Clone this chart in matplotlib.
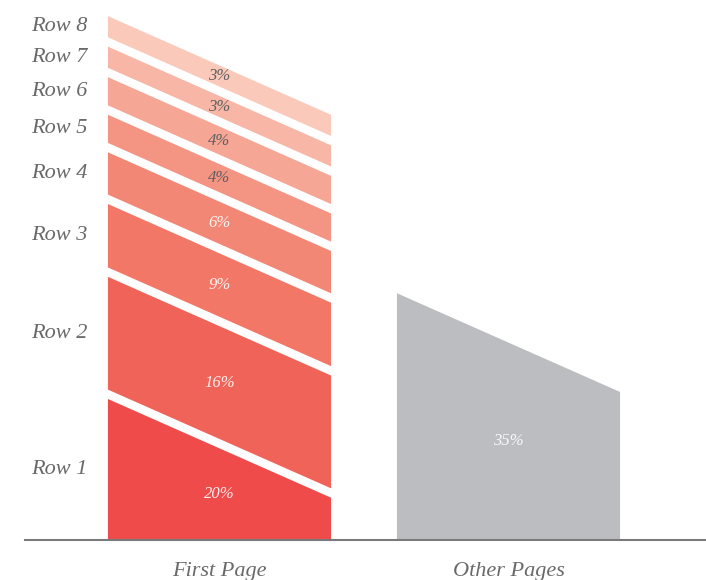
import matplotlib
matplotlib.use("Agg")
import matplotlib.pyplot as plt

# --- data -------------------------------------------------------------
rows = ["Row 1", "Row 2", "Row 3", "Row 4", "Row 5", "Row 6", "Row 7", "Row 8"]
first_page = [20, 16, 9, 6, 4, 4, 3, 3]          # % per row, bottom to top
other_pages = 35                                   # %
categories = ["First Page", "Other Pages"]
value_labels = ["20%", "16%", "9%", "6%", "4%", "4%", "3%", "3%"]
other_label = "35%"

# --- style ------------------------------------------------------------
row_colors = ["#ef4b4b", "#f06358", "#f27767", "#f38775",
              "#f49583", "#f6a694", "#f8b7a6", "#fbc9b9"]
other_color = "#bcbdc0"
light_text = [True, True, True, True, False, False, False, False]
text_gray = "#6a6a6a"
serif = ["Liberation Serif", "DejaVu Serif"]

W, H, DPI = 706, 580, 100
base_px, left_px = 40, 25
px_per_x = 289.0       # pixels between category centres
px_per_pct = 7.05      # pixels per percentage point
bar_w = 0.772          # bar width in category units
gap = 1.33             # white gap between stacked rows (percentage units)
slant = 14.0           # drop of every top edge from left to right (percentage units)

fig = plt.figure(figsize=(W / DPI, H / DPI), dpi=DPI)
ax = fig.add_axes([left_px / W, base_px / H, 1 - left_px / W, 1 - base_px / H])
x_lo = -(219.5 - left_px) / px_per_x
ax.set_xlim(x_lo, x_lo + (W - left_px) / px_per_x)
ax.set_ylim(0, (H - base_px) / px_per_pct)


def slanted_band(ax, xc, bottom, top, color, flat_bottom):
    x0, x1 = xc - bar_w / 2, xc + bar_w / 2
    b_right = bottom if flat_bottom else bottom - slant
    xs = [x0, x1, x1, x0]
    ys = [bottom, b_right, top - slant, top]
    ax.fill(xs, ys, color=color, lw=0, zorder=2)


# First Page: stacked slanted rows
bottom = 0.0
for i, (name, val) in enumerate(zip(rows, first_page)):
    top = bottom + val
    flat = i == 0
    slanted_band(ax, 0, bottom, top, row_colors[i], flat)
    # value label in the middle of the band at the bar centre
    yb = bottom if flat else bottom - slant / 2
    yt = top - slant / 2
    ax.text(0, (yb + yt) / 2, value_labels[i], ha="center", va="center",
            fontsize=12, fontstyle="italic", family=serif,
            color="white" if light_text[i] else "#5e5e5e",
            alpha=0.9 if light_text[i] else 1.0, zorder=3)
    # row name beside the left edge
    ax.text(-bar_w / 2 - 20 / px_per_x, (bottom + top) / 2, name,
            ha="right", va="center", fontsize=16, fontstyle="italic",
            family=serif, color=text_gray, zorder=3)
    bottom = top + gap

# Other Pages: single slanted bar
slanted_band(ax, 1, 0, other_pages, other_color, True)
ax.text(1, (other_pages - slant / 2) / 2, other_label, ha="center", va="center",
        fontsize=12, fontstyle="italic", family=serif, color="white",
        alpha=0.9, zorder=3)

# axes cosmetics
for side in ("left", "top", "right"):
    ax.spines[side].set_visible(False)
ax.spines["bottom"].set_color("#7a7a7a")
ax.spines["bottom"].set_linewidth(1.5)
ax.spines["bottom"].set_zorder(4)
ax.set_yticks([])
ax.set_xticks([0, 1])
ax.set_xticklabels(categories, fontsize=16, fontstyle="italic",
                   family=serif, color=text_gray)
ax.tick_params(axis="x", length=0, pad=16)
ax.patch.set_visible(False)

fig.savefig("out.png", dpi=DPI)
